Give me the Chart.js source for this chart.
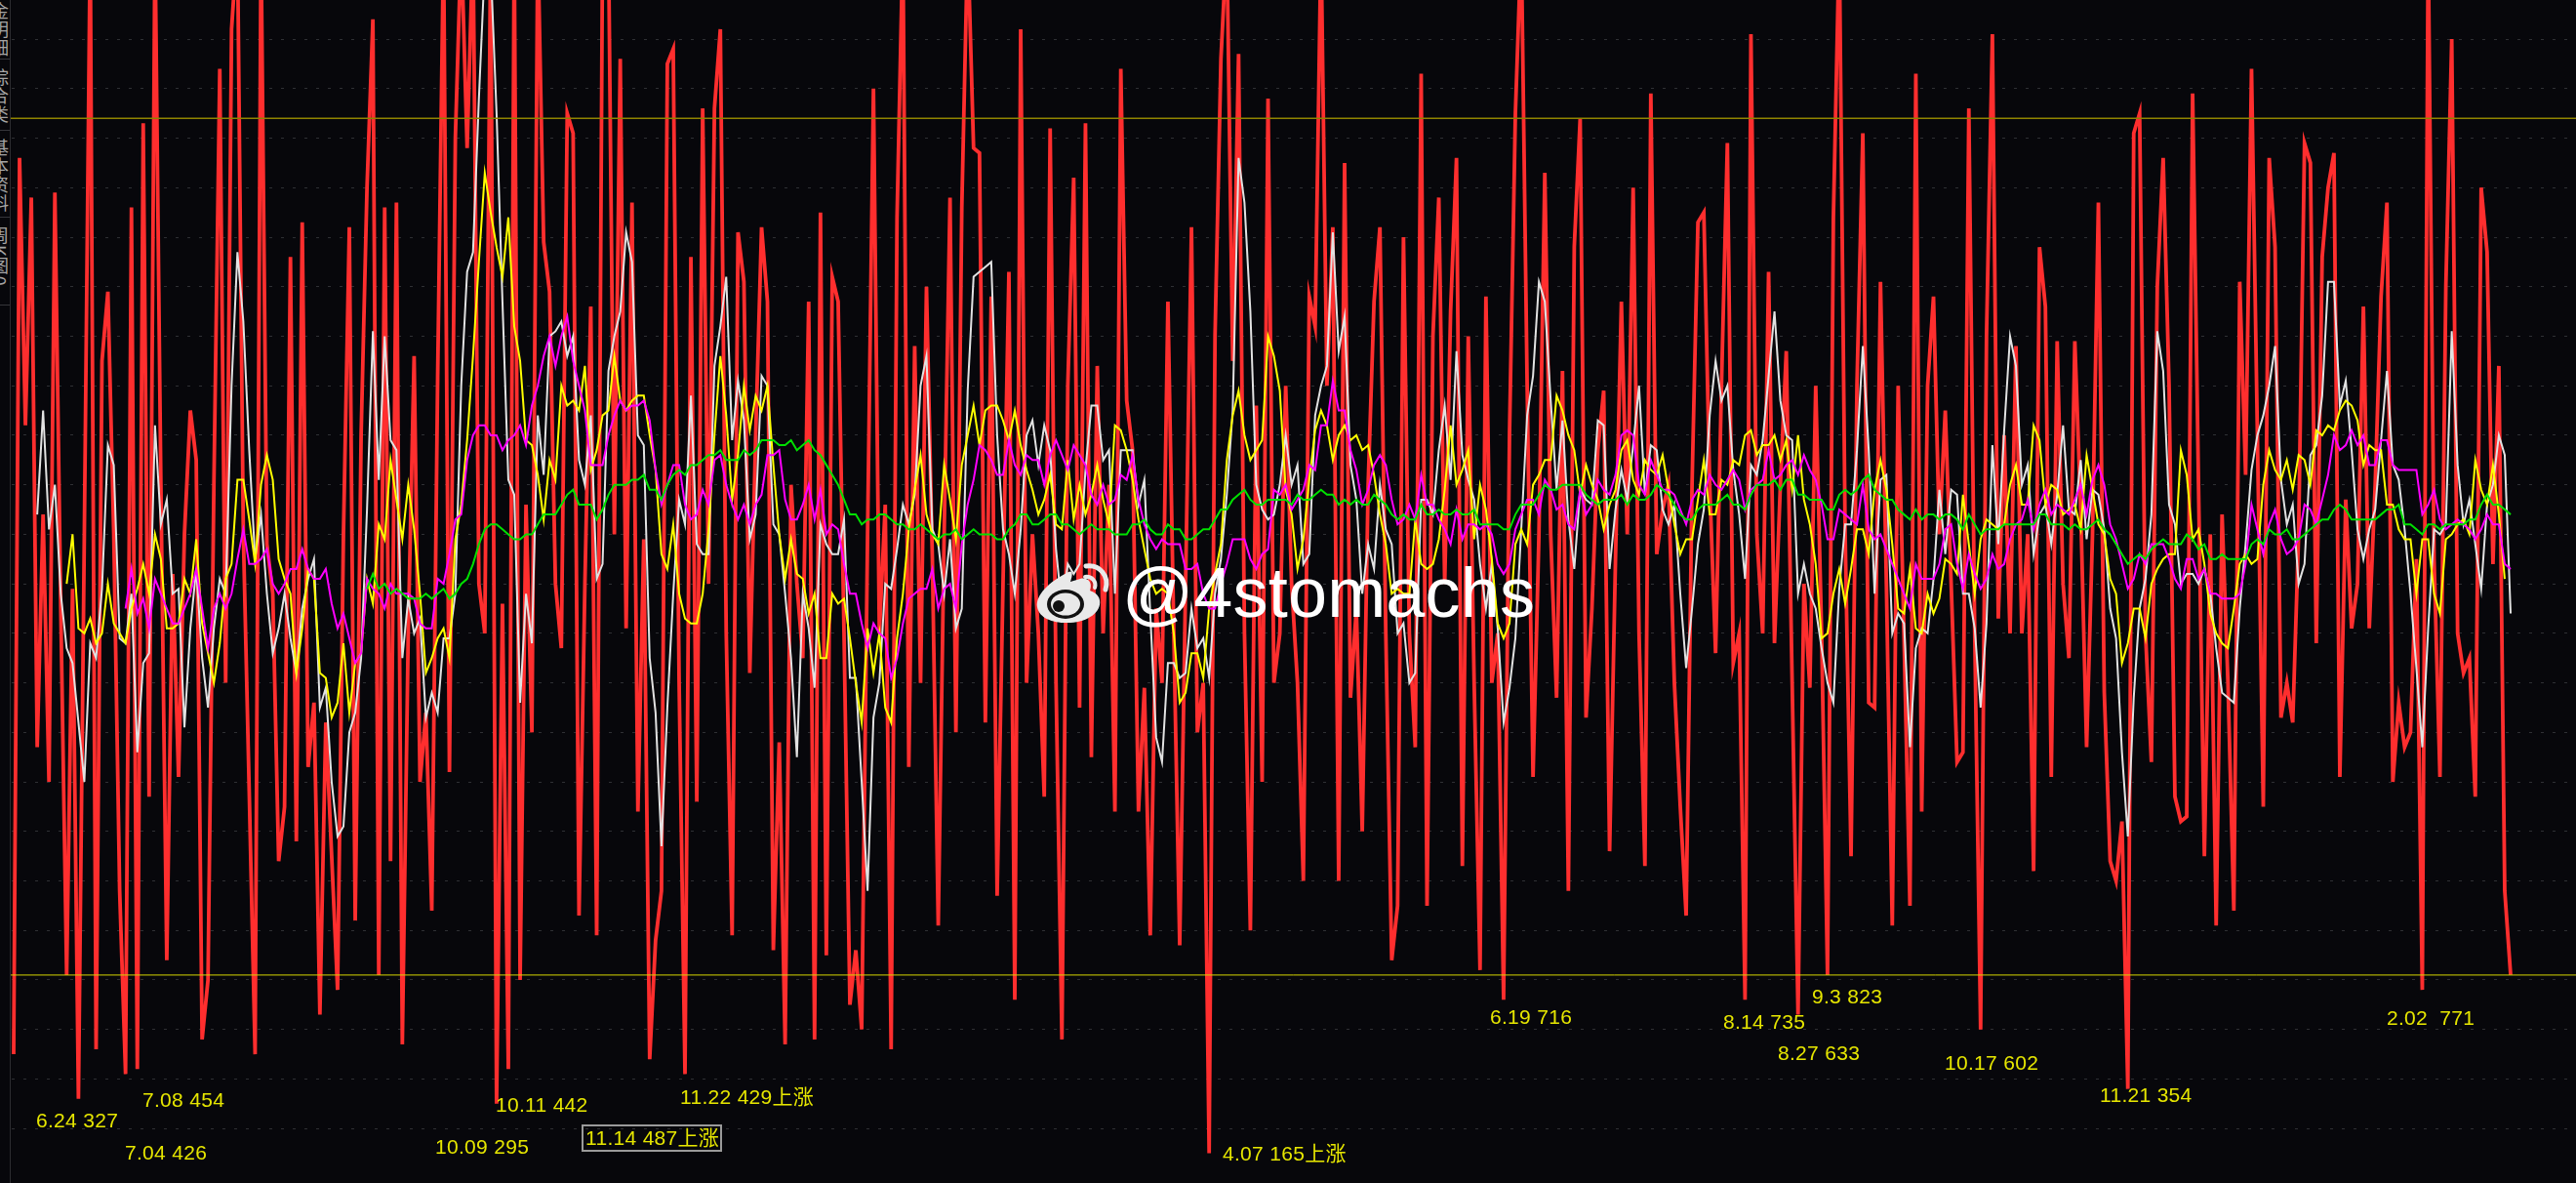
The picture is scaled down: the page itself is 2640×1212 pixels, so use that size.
<!DOCTYPE html>
<html>
<head>
<meta charset="utf-8">
<script src="https://cdn.jsdelivr.net/npm/chart.js@4"></script>
<style>
    html, body { margin: 0; padding: 0; background: #07070b; }
    #wrap { position: relative; width: 2640px; height: 1212px; overflow: hidden; background: #07070b; }
    #myChart { position: absolute; left: 0; top: 0; }
    .note { position: absolute; color: #e6e600; font: 21px "Liberation Sans", "Noto Sans CJK SC", sans-serif; letter-spacing: 0.3px; line-height: 24px; white-space: pre; transform: translateY(-50%); }
    .boxed { outline: 2px solid #9a9a9a; outline-offset: 0; padding: 0 1px 0 2px; }
    #side { position: absolute; left: 0; top: 0; width: 10px; height: 1212px; overflow: hidden; background: #07070b; border-right: 1px solid #2c2c30; }
    #side div { position: absolute; left: 0; width: 10px; height: 1px; background: #35353a; }
    #side span { position: absolute; left: -9px; color: #a4a4a4; font: 18px/18px "Noto Sans CJK SC", sans-serif; writing-mode: vertical-rl; letter-spacing: 1px; }
    #mark { position: absolute; left: 1150px; top: 565px; color: #fff; font: 72px/84px "Liberation Sans", sans-serif; letter-spacing: 0.2px; white-space: pre; }
    #logo { position: absolute; left: 1061px; top: 572px; }
</style>
</head>
<body>
<div id="wrap">
    <canvas id="myChart" width="2640" height="1212"></canvas>
    <div id="side">
        <span style="top:2px">金明细</span><div style="top:60px"></div>
        <span style="top:70px">综合类</span><div style="top:133px"></div>
        <span style="top:142px">基本资料</span><div style="top:222px"></div>
        <span style="top:232px">周K图0</span><div style="top:312px"></div>
    </div>
    <svg id="logo" width="82" height="68" viewBox="0 0 82 68">
        <path d="M34 14 C14 24 0 38 2 50 C4 62 20 67 36 66 C54 65 68 55 66 43 C65 36 58 34 56 33 C59 25 54 19 46 21 L36 24 C39 15 38 12 34 14 Z" fill="#e9e9e9"/>
        <ellipse cx="31" cy="47" rx="19" ry="15" fill="#111" />
        <ellipse cx="31" cy="47" rx="15" ry="11.5" fill="#e9e9e9"/>
        <ellipse cx="24" cy="49" rx="6" ry="6" fill="#111"/>
        <path d="M52 8 C66 6 76 18 72 32" fill="none" stroke="#e9e9e9" stroke-width="5" stroke-linecap="round"/>
        <path d="M51 19 C58 18 63 24 61 30" fill="none" stroke="#e9e9e9" stroke-width="4" stroke-linecap="round"/>
    </svg>
    <div id="mark">@4stomachs</div>
</div>
<script>
// values, one per session
const redValues = [
    15,196,142,188,77,124,70,189,105,31,
    109,6,120,240,16,155,169,120,48,11,
    186,12,203,67,240,130,34,112,71,120,
    145,135,18,30,130,214,90,222,240,120,
    68,15,240,118,108,54,65,176,58,183,
    73,86,23,82,55,28,120,182,42,140,
    190,224,31,186,54,187,17,100,156,70,
    84,44,152,240,72,200,240,198,240,110,
    100,240,5,106,12,240,30,126,80,240,
    179,169,110,97,205,201,43,110,166,39,
    240,240,120,216,101,187,64,119,14,38,
    48,215,218,90,11,176,66,206,110,206,
    222,100,39,181,171,92,140,182,167,36,
    78,17,130,110,95,167,18,185,35,172,
    167,100,25,36,20,120,210,100,126,16,
    184,240,73,158,90,170,115,41,120,188,
    80,186,240,198,197,82,168,47,110,173,
    26,222,90,120,100,67,202,90,18,150,
    192,85,203,75,154,100,130,64,214,147,
    137,64,89,39,105,90,167,100,37,110,
    182,80,90,-5,160,216,240,155,217,100,
    40,146,70,208,90,100,150,110,90,50,
    168,162,240,150,182,50,195,87,105,60,
    130,167,182,100,34,45,180,100,77,213,
    45,160,188,110,165,196,53,160,90,32,
    168,90,100,26,140,205,240,150,71,120,
    193,120,87,153,48,178,204,83,105,137,
    149,56,115,167,120,190,100,53,209,116,
    125,130,90,65,43,130,183,185,130,96,
    150,199,94,100,26,221,120,100,173,98,
    130,157,90,23,110,89,150,100,31,184,
    240,120,55,150,201,86,85,171,110,41,
    150,99,45,213,64,150,168,120,145,110,
    74,76,206,100,20,160,221,103,140,100,
    158,100,120,52,178,166,71,159,110,95,
    159,125,77,120,187,88,54,50,62,8,
    201,205,100,74,170,196,150,67,62,63,
    209,130,55,120,41,124,90,44,171,132,
    214,140,65,196,178,83,90,82,120,199,
    195,98,176,190,197,71,127,101,110,166,
    101,130,168,187,70,86,77,80,115,28,
    240,115,71,170,220,100,92,95,67,190,
    177,114,154,48,31
];
const whiteStart = 4;
const whiteValues = [
    124,145,121,130,108,97,
    94,82,70,98,95,109,138,134,99,98,
    108,76,94,96,142,122,127,108,109,81,
    101,113,95,85,101,111,108,150,177,163,
    137,115,124,108,96,101,108,99,92,105,
    111,115,85,89,70,59,61,80,84,95,
    125,161,131,160,139,137,95,107,100,103,
    83,88,84,99,99,108,150,173,177,208,
    235,235,205,167,131,128,86,108,98,144,
    132,160,161,163,156,160,135,130,144,111,
    114,153,160,165,181,175,140,138,95,84,
    57,85,108,127,122,148,118,116,116,154,
    162,172,139,151,143,119,124,152,150,122,
    120,108,95,75,108,101,89,122,118,116,
    116,123,91,91,70,48,83,90,110,109,
    117,126,122,128,150,156,121,118,108,119,
    101,105,149,172,173,174,175,140,121,116,
    108,121,140,143,134,142,137,117,105,114,
    112,114,133,146,146,135,137,108,137,137,
    137,126,131,104,79,74,94,94,91,92,
    105,97,99,91,108,115,128,145,196,187,
    165,130,125,123,124,130,140,130,134,114,
    116,144,150,154,181,157,164,134,127,108,
    118,113,130,121,118,100,102,90,92,127,
    127,124,137,146,131,157,136,131,127,114,
    105,114,101,82,89,99,121,144,152,171,
    167,147,129,143,123,113,129,127,126,143,
    142,113,125,133,127,138,150,128,138,137,
    125,122,126,108,93,105,118,125,144,155,
    147,150,133,124,111,134,132,139,152,165,
    147,140,139,108,114,108,105,97,90,86,
    109,122,122,137,158,137,108,131,132,100,
    104,102,77,97,101,100,111,129,116,129,
    128,108,108,101,85,102,138,118,141,160,
    154,130,134,116,124,126,118,128,142,125,
    124,135,119,129,128,121,105,99,76,59,
    87,105,111,124,161,153,126,122,110,112,
    112,110,113,108,97,88,87,86,105,118,
    133,140,144,150,158,131,122,126,110,114,
    136,138,148,171,171,146,151,137,121,115,
    121,125,139,153,134,131,121,108,93,77,
    101,121,120,122,161,134,122,127,118,109,
    126,130,140,136,104
];
const yellowStart = 9;
const yellowValues = [
    110,
    120,101,100,103,98,100,110,102,100,98,
    105,109,114,108,120,115,101,101,102,111,
    108,119,102,96,90,98,111,114,131,131,
    123,114,130,136,131,115,111,108,92,101,
    113,111,92,91,83,86,98,84,94,96,
    111,106,122,119,135,127,119,130,121,108,
    92,95,99,101,95,119,126,139,156,175,
    193,185,178,172,184,162,155,139,138,132,
    123,135,131,150,146,147,145,154,133,137,
    144,145,156,147,145,147,148,148,140,133,
    116,113,122,108,103,102,102,108,121,140,
    156,144,127,136,150,141,148,145,150,134,
    120,111,119,112,111,104,108,95,95,108,
    106,107,99,90,82,101,92,100,85,82,
    99,108,121,129,136,124,120,118,134,127,
    119,134,140,146,138,145,146,146,143,139,
    145,138,133,129,124,127,132,122,121,135,
    123,130,124,128,134,127,122,142,141,137,
    131,123,117,111,108,109,108,100,86,88,
    96,96,91,105,112,118,135,144,149,140,
    135,137,139,160,156,149,129,124,113,119,
    131,141,145,142,135,140,142,139,140,137,
    138,132,124,118,108,109,108,108,123,114,
    113,114,119,129,142,130,133,137,119,130,
    125,115,102,99,102,118,121,118,130,132,
    135,135,148,145,140,137,128,134,130,127,
    121,126,129,137,139,131,128,135,133,132,
    136,129,122,116,119,119,127,135,124,124,
    131,130,135,134,140,141,136,138,138,140,
    135,139,129,140,127,122,114,99,100,108,
    113,106,113,121,121,116,129,135,129,118,
    105,104,113,101,100,108,104,107,115,114,
    112,128,118,108,119,123,122,121,122,130,
    134,126,126,142,139,126,130,129,124,125,
    126,121,136,129,122,120,111,108,94,98,
    105,105,99,110,113,115,116,116,137,132,
    119,121,114,104,100,98,97,105,114,116,
    114,115,130,137,133,131,135,129,136,135,
    130,141,140,142,141,145,147,146,143,134,
    138,137,137,126,126,121,119,119,108,119,
    119,108,104,119,120,122,123,120,135,129,
    126,134,124,111
];
const magentaStart = 19;
const magentaValues = [
    105,
    113,104,107,101,111,108,105,102,102,105,
    108,113,105,97,105,108,105,108,115,121,
    114,114,115,117,110,108,110,113,113,117,
    113,111,111,113,106,101,104,99,94,96,
    111,109,108,105,110,108,108,108,107,102,
    101,101,111,110,116,123,124,135,140,142,
    142,140,140,137,139,140,142,138,146,150,
    156,160,154,160,164,155,150,145,134,134,
    134,140,144,147,145,146,146,147,143,133,
    126,130,134,134,126,123,124,129,126,135,
    136,130,126,123,126,122,126,128,136,136,
    137,127,123,123,126,130,123,129,120,122,
    121,114,108,108,102,97,102,100,99,91,
    95,102,107,108,109,109,113,105,109,110,
    105,118,126,131,138,137,135,132,132,139,
    134,132,136,135,135,130,136,139,136,133,
    138,136,134,128,126,130,126,127,132,131,
    136,127,122,119,117,119,118,118,118,113,
    113,114,108,105,105,110,114,119,119,119,
    115,113,116,117,129,128,130,125,127,129,
    134,133,142,142,151,145,145,137,133,126,
    129,134,136,134,127,122,123,126,123,132,
    126,126,123,121,118,125,119,122,122,121,
    122,120,114,112,114,121,124,127,127,124,
    131,129,125,126,122,121,129,124,126,131,
    129,128,132,140,141,140,130,128,135,132,
    129,129,128,125,122,127,129,128,132,130,
    129,131,133,131,125,129,130,131,137,131,
    132,134,135,132,136,133,131,126,119,119,
    125,124,123,122,130,121,119,120,117,114,
    111,108,105,114,111,111,111,114,121,122,
    114,109,116,112,109,111,116,113,114,119,
    122,123,127,121,126,129,124,126,125,124,
    127,130,124,131,134,130,122,119,114,109,
    111,116,114,118,118,118,115,111,109,115,
    115,111,113,108,108,107,107,107,108,114,
    126,121,116,122,125,119,116,117,119,126,
    125,122,127,132,140,137,138,141,138,140,
    134,134,139,139,134,133,133,133,133,124,
    126,129,123,121,122,123,122,121,119,121,
    124,122,122,114,113
];
const greenStart = 60;
const greenValues = [
    109,112,109,110,108,109,108,107,107,107,
    108,107,108,109,107,108,110,111,114,118,
    121,122,122,121,120,119,119,120,120,122,
    124,124,124,126,128,129,126,126,126,123,
    125,128,130,130,130,131,131,132,129,129,
    127,130,132,133,132,134,134,135,136,136,
    137,135,135,135,137,136,137,139,139,139,
    138,138,139,137,138,139,137,136,134,132,
    130,127,124,124,122,123,123,124,124,123,
    122,122,121,121,122,121,120,119,120,120,
    121,119,120,121,120,120,120,119,119,121,
    122,124,124,122,122,123,124,124,122,122,
    121,120,121,122,121,121,121,120,120,120,
    122,122,123,121,120,120,122,121,121,119,
    119,120,121,121,123,125,125,127,128,129,
    127,126,126,127,127,127,127,126,128,127,
    127,128,129,128,128,126,127,126,127,126,
    126,128,127,126,124,123,124,123,123,126,
    124,124,125,124,124,125,124,124,125,122,
    122,122,122,121,121,124,126,126,126,128,
    130,129,129,130,130,130,130,128,127,126,
    127,127,127,128,126,128,127,127,128,130,
    129,128,126,124,123,123,125,126,126,126,
    127,128,126,126,125,128,130,130,130,131,
    129,131,131,128,128,127,127,127,125,125,
    128,129,128,129,131,132,129,128,127,127,
    125,124,123,125,123,124,124,123,124,124,
    123,121,124,122,120,121,121,121,122,122,
    122,122,122,122,124,124,122,122,122,121,
    122,121,121,122,123,121,120,118,116,114,
    115,116,115,117,118,119,118,118,118,120,
    119,117,118,115,115,116,115,115,115,115,
    118,119,118,121,120,120,121,119,119,120,
    121,122,123,123,125,126,125,123,123,123,
    123,123,124,125,125,126,122,122,121,120,
    122,122,121,122,122,122,122,123,123,126,
    128,126,126,125,124
];
const upperLevel = 204;
const lowerLevel = 31;
const gridValues = [0,10,20,30,40,50,60,70,80,90,100,110,120,130,140,150,160,170,180,190,200,210,220];

// yellow notes under the lows: text, left, middle
const notes = [
    ['6.24 327', 37, 1148],
    ['7.08 454', 146, 1127],
    ['7.04 426', 128, 1181],
    ['10.11 442', 508, 1132],
    ['10.09 295', 446, 1175],
    ['11.22 429上涨', 697, 1124],
    ['4.07 165上涨', 1253, 1182],
    ['6.19 716', 1527, 1042],
    ['8.14 735', 1766, 1047],
    ['8.27 633', 1822, 1079],
    ['9.3 823', 1857, 1021],
    ['10.17 602', 1993, 1089],
    ['11.21 354', 2152, 1122],
    ['2.02  771', 2446, 1043],
    ['11.14 487上涨', 598, 1166, true]
];

function toPoints(values, start) {
    return values.map((v, i) => ({ x: start + i, y: v }));
}

function line(values, start, color, width) {
    return {
        data: toPoints(values, start),
        borderColor: color,
        borderWidth: width,
        pointRadius: 0,
        tension: 0,
        fill: false,
    };
}

function level(value, color, width) {
    return {
        data: [{ x: -0.6, y: value }, { x: 436, y: value }],
        borderColor: color,
        borderWidth: width,
        pointRadius: 0,
        tension: 0,
    };
}

const wrap = document.getElementById('wrap');
notes.forEach(n => {
    const el = document.createElement('div');
    el.className = n[3] ? 'note boxed' : 'note';
    el.textContent = n[0];
    el.style.left = n[1] + 'px';
    el.style.top = n[2] + 'px';
    wrap.appendChild(el);
});

new Chart(document.getElementById('myChart'), {
    type: 'line',
    data: {
        datasets: [
            level(upperLevel, '#8f8300', 1.6),
            level(lowerLevel, '#d6d600', 1),
            line(greenValues, greenStart, '#00e000', 2),
            line(magentaValues, magentaStart, '#ff00ff', 2),
            line(yellowValues, yellowStart, '#ffff00', 2),
            line(whiteValues, whiteStart, '#e2e2e2', 2),
            line(redValues, 0, '#ff2e2e', 3.8),
        ]
    },
    options: {
        responsive: false,
        animation: false,
        maintainAspectRatio: false,
        layout: { padding: 0 },
        plugins: { legend: { display: false }, tooltip: { enabled: false } },
        scales: {
            x: { type: 'linear', display: false, min: -2.32, max: 435.1 },
            y: {
                min: -11,
                max: 227.9,
                border: { display: false, dash: [3, 9] },
                grid: { color: '#2f3034', drawTicks: false, lineWidth: 1 },
                ticks: { display: false },
                afterBuildTicks: axis => { axis.ticks = gridValues.map(v => ({ value: v })); },
            }
        }
    }
});
</script>
</body>
</html>
